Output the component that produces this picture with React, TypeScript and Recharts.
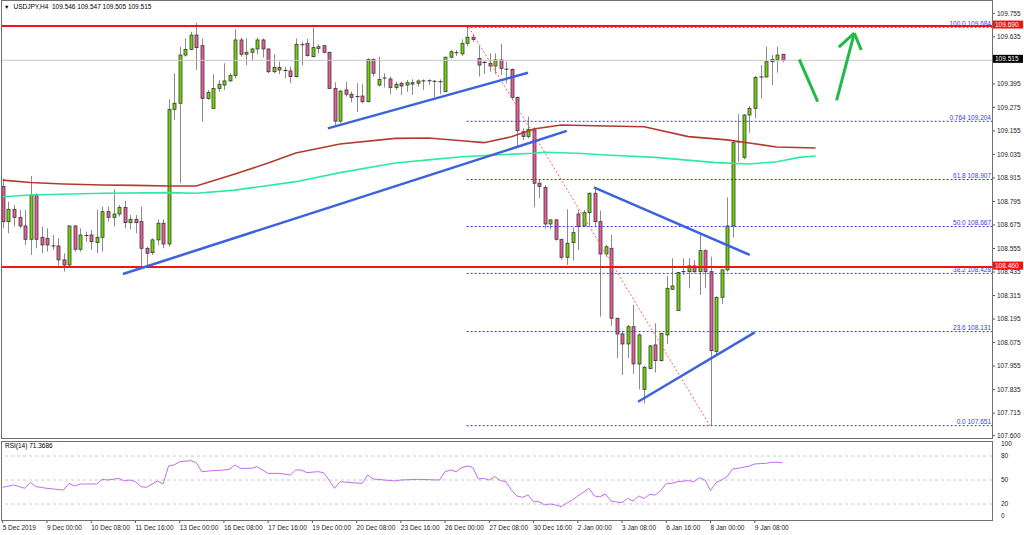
import { Bar, ComposedChart, Line, ReferenceLine, XAxis, YAxis } from 'recharts';

const FONT = '"Liberation Sans", Arial, sans-serif';
const FS = 6.5;
const BULL = '#6fd400';
const BEAR = '#ea5a9c';

const symbolHeader = 'USDJPY,H4  109.546 109.547 109.505 109.515';
const rsiHeader = 'RSI(14) 71.3686';

// H4 candles, oldest first
const opens = [
  108.871, 108.692, 108.755, 108.714, 108.670, 108.602, 108.828, 108.612, 108.607, 108.568,
  108.568, 108.497, 108.471, 108.670, 108.551, 108.619, 108.624, 108.585, 108.612, 108.743,
  108.714, 108.731, 108.765, 108.687, 108.704, 108.692, 108.556, 108.534, 108.599, 108.684,
  108.578, 109.265, 109.296, 109.542, 109.571, 109.644, 109.590, 109.321, 109.270, 109.372,
  109.389, 109.410, 109.437, 109.619, 109.546, 109.556, 109.573, 109.619, 109.573, 109.457,
  109.478, 109.461, 109.461, 109.432, 109.595, 109.602, 109.534, 109.576, 109.590, 109.556,
  109.372, 109.205, 109.364, 109.342, 109.330, 109.333, 109.304, 109.520, 109.389, 109.423,
  109.420, 109.376, 109.398, 109.389, 109.394, 109.398, 109.410, 109.410, 109.408, 109.406,
  109.355, 109.531, 109.554, 109.548, 109.602, 109.633, 109.525, 109.504, 109.500, 109.486,
  109.517, 109.470, 109.469, 109.326, 109.151, 109.126, 109.160, 108.888, 108.867, 108.680,
  108.701, 108.602, 108.510, 108.585, 108.731, 108.670, 108.738, 108.837, 108.692, 108.527,
  108.556, 108.199, 108.119, 108.068, 108.156, 107.966, 107.836, 107.943, 108.063, 107.983,
  108.114, 108.347, 108.238, 108.437, 108.437, 108.466, 108.437, 108.544, 108.437, 108.029,
  108.306, 108.446, 108.670, 109.099, 109.020, 109.236, 109.270, 109.428, 109.430, 109.508,
  109.517, 109.546,
];
const highs = [
  108.913, 108.794, 108.777, 108.752, 108.752, 108.925, 108.837, 108.667, 108.658, 108.624,
  108.607, 108.531, 108.675, 108.675, 108.658, 108.641, 108.650, 108.752, 108.769, 108.769,
  108.857, 108.777, 108.799, 108.726, 108.726, 108.769, 108.565, 108.607, 108.704, 108.704,
  109.316, 109.449, 109.585, 109.627, 109.661, 109.707, 109.627, 109.364, 109.444, 109.415,
  109.500, 109.449, 109.675, 109.631, 109.627, 109.580, 109.631, 109.627, 109.576, 109.546,
  109.508, 109.483, 109.483, 109.627, 109.610, 109.624, 109.682, 109.597, 109.593, 109.559,
  109.403, 109.364, 109.406, 109.355, 109.398, 109.393, 109.525, 109.525, 109.534, 109.449,
  109.432, 109.406, 109.406, 109.415, 109.418, 109.418, 109.418, 109.418, 109.415, 109.418,
  109.534, 109.568, 109.568, 109.622, 109.684, 109.650, 109.588, 109.514, 109.551, 109.551,
  109.599, 109.508, 109.474, 109.330, 109.168, 109.228, 109.173, 108.908, 108.879, 108.704,
  108.704, 108.602, 108.755, 108.663, 108.752, 108.752, 108.840, 108.862, 108.748, 108.573,
  108.624, 108.199, 108.136, 108.165, 108.267, 108.122, 107.956, 108.063, 108.173, 108.126,
  108.415, 108.505, 108.432, 108.505, 108.505, 108.496, 108.629, 108.551, 108.513, 108.310,
  108.449, 108.816, 109.109, 109.241, 109.241, 109.282, 109.435, 109.491, 109.585, 109.542,
  109.585, 109.547,
];
const lows = [
  108.658, 108.633, 108.667, 108.658, 108.573, 108.522, 108.556, 108.531, 108.539, 108.548,
  108.463, 108.437, 108.463, 108.539, 108.539, 108.590, 108.548, 108.531, 108.539, 108.692,
  108.667, 108.718, 108.658, 108.653, 108.633, 108.463, 108.459, 108.522, 108.573, 108.556,
  108.565, 109.211, 108.888, 109.534, 109.568, 109.466, 109.202, 109.313, 109.270, 109.355,
  109.364, 109.406, 109.423, 109.534, 109.491, 109.517, 109.546, 109.529, 109.449, 109.449,
  109.444, 109.423, 109.398, 109.427, 109.491, 109.534, 109.529, 109.551, 109.551, 109.369,
  109.185, 109.194, 109.330, 109.301, 109.253, 109.296, 109.301, 109.432, 109.381, 109.376,
  109.342, 109.364, 109.338, 109.355, 109.338, 109.381, 109.364, 109.389, 109.326, 109.343,
  109.355, 109.525, 109.537, 109.537, 109.588, 109.610, 109.432, 109.446, 109.457, 109.446,
  109.440, 109.398, 109.316, 109.078, 109.109, 109.117, 108.765, 108.811, 108.658, 108.653,
  108.595, 108.497, 108.471, 108.493, 108.548, 108.667, 108.667, 108.667, 108.207, 108.513,
  108.160, 107.995, 107.910, 107.995, 107.915, 107.836, 107.765, 107.939, 107.922, 107.978,
  108.068, 108.343, 108.238, 108.420, 108.352, 108.429, 108.318, 108.352, 107.650, 108.012,
  108.272, 108.437, 108.612, 108.998, 109.010, 109.146, 109.219, 109.321, 109.428, 109.389,
  109.452, 109.505,
];
const closes = [
  108.692, 108.755, 108.714, 108.670, 108.602, 108.828, 108.602, 108.573, 108.573, 108.565,
  108.497, 108.471, 108.670, 108.551, 108.624, 108.621, 108.590, 108.612, 108.743, 108.714,
  108.731, 108.765, 108.687, 108.704, 108.687, 108.556, 108.531, 108.599, 108.684, 108.578,
  109.265, 109.296, 109.542, 109.571, 109.644, 109.580, 109.321, 109.352, 109.372, 109.393,
  109.410, 109.437, 109.619, 109.546, 109.556, 109.573, 109.619, 109.573, 109.457, 109.478,
  109.466, 109.463, 109.432, 109.597, 109.593, 109.539, 109.580, 109.585, 109.556, 109.372,
  109.205, 109.358, 109.342, 109.325, 109.328, 109.304, 109.520, 109.449, 109.418, 109.425,
  109.376, 109.393, 109.384, 109.401, 109.401, 109.410, 109.410, 109.411, 109.406, 109.406,
  109.531, 109.559, 109.548, 109.602, 109.633, 109.622, 109.491, 109.503, 109.486, 109.517,
  109.474, 109.469, 109.326, 109.156, 109.126, 109.163, 108.888, 108.871, 108.680, 108.701,
  108.602, 108.510, 108.582, 108.636, 108.667, 108.738, 108.837, 108.692, 108.527, 108.564,
  108.199, 108.119, 108.068, 108.156, 107.966, 108.114, 107.949, 108.058, 107.983, 108.122,
  108.352, 108.364, 108.432, 108.437, 108.466, 108.437, 108.544, 108.437, 108.034, 108.306,
  108.446, 108.670, 109.095, 109.097, 109.236, 109.270, 109.428, 109.430, 109.508, 109.520,
  109.542, 109.515,
];

// moving averages [bar index, price] (red = slow, green = slower), shifted forward
const maRed: [number, number][] = [
  [0, 108.904], [5, 108.892], [11, 108.884], [18, 108.879], [24, 108.877], [30, 108.874],
  [35, 108.874], [42, 108.935], [48, 108.991], [53, 109.042], [61, 109.088], [71, 109.117],
  [77, 109.119], [83, 109.105], [87, 109.095], [92, 109.125], [96, 109.165], [101, 109.185],
  [109, 109.18], [116, 109.176], [124, 109.126], [131, 109.109], [135, 109.093], [140, 109.073],
  [147, 109.068],
];
const maGreen: [number, number][] = [
  [0, 108.819], [5, 108.828], [18, 108.837], [30, 108.84], [35, 108.837], [42, 108.853],
  [53, 108.896], [61, 108.942], [71, 108.991], [77, 109.007], [83, 109.023], [89, 109.032],
  [96, 109.041], [98, 109.046], [104, 109.041], [109, 109.032], [118, 109.02], [129, 108.993],
  [135, 108.986], [140, 108.998], [144, 109.02], [147, 109.027],
];

// RSI(14) [bar index, value]
const rsiPoints: [number, number][] = [
  [0, 40.8], [2, 43.8], [4, 39.6], [5, 47.1], [6, 41.7], [8, 39.6], [11, 37.5], [12, 45.8],
  [13, 42.5], [14, 45], [17, 45], [18, 50.8], [19, 50], [21, 52], [22, 48.8], [23, 50],
  [24, 47.9], [25, 41.7], [26, 40.8], [28, 48.8], [29, 45], [30, 67.5], [31, 68.8], [32, 72.9],
  [34, 74.2], [35, 71.7], [36, 60.4], [38, 61.7], [40, 62.5], [41, 63.3], [42, 68.8], [43, 64.6],
  [45, 64.6], [46, 66.7], [47, 62.5], [48, 58.3], [50, 58.3], [52, 56.3], [53, 62.5], [54, 62.5],
  [55, 59.2], [57, 60.4], [58, 59.2], [59, 50], [60, 39.6], [61, 47.9], [63, 46.7], [65, 45.8],
  [66, 56.3], [67, 51.3], [69, 50], [71, 48.8], [72, 50], [75, 50.8], [79, 50], [80, 60.4],
  [81, 62.5], [82, 60.4], [83, 65.4], [84, 67.5], [85, 65.8], [86, 51.3], [87, 52.1], [88, 50],
  [89, 54.2], [90, 49.2], [91, 47.9], [92, 37.5], [93, 30], [94, 28.3], [95, 31.3], [96, 22.9],
  [97, 22.9], [98, 18.8], [99, 20], [100, 18.8], [101, 16.7], [102, 21], [103, 25], [104, 30],
  [106, 39.6], [107, 30], [108, 29], [109, 32.5], [110, 23.8], [111, 22.5], [112, 21.7],
  [113, 27], [114, 23.8], [115, 30], [116, 27], [117, 32], [118, 31.3], [119, 36.7], [120, 45.8],
  [121, 45.8], [122, 47.9], [124, 49.2], [125, 47.9], [126, 52.9], [127, 50], [128, 36.7],
  [129, 46.7], [130, 50], [131, 54.2], [132, 63.8], [133, 64.6], [134, 66], [135, 67.5],
  [136, 70], [137, 70.5], [138, 70.8], [139, 72.1], [140, 72.1], [141, 71.37],
];

const timeLabels = [
  '5 Dec 2019', '9 Dec 00:00', '10 Dec 08:00', '11 Dec 16:00', '13 Dec 00:00', '16 Dec 08:00',
  '17 Dec 16:00', '19 Dec 00:00', '20 Dec 08:00', '23 Dec 16:00', '26 Dec 00:00', '27 Dec 08:00',
  '30 Dec 16:00', '2 Jan 00:00', '3 Jan 08:00', '6 Jan 16:00', '8 Jan 00:00', '9 Jan 08:00',
];
const barsPerLabel = 8;

const priceTicks = [
  109.755, 109.635, 109.395, 109.275, 109.155, 109.035, 108.915, 108.795, 108.675, 108.555,
  108.435, 108.315, 108.195, 108.075, 107.955, 107.835, 107.715, 107.6,
];
const rsiTicks = [0, 20, 50, 80, 100];
const rsiLevels = [20, 50, 80];

const resistance = 109.69;
const support = 108.46;
const lastPrice = 109.515;

const fibNames = ['100.0', '0.764', '61.8', '50.0', '38.2', '23.6', '0.0'];
const fibValues = [109.684, 109.204, 108.907, 108.667, 108.428, 108.131, 107.651];
const fibStart = 83.9;
const fibSwing: [number, number][] = [[84.3, 109.684], [127.9, 107.651]];

const trendLines: [number, number][][] = [
  [[21.75, 108.425], [102.0, 109.155]],
  [[58.8, 109.168], [95.0, 109.452]],
  [[106.9, 108.867], [135.1, 108.522]],
  [[114.9, 107.773], [136.0, 108.127]],
];
const arrowStrokes: [number, number][][] = [
  [[144.05, 109.52], [147.38, 109.304]],
  [[150.8, 109.311], [154.0, 109.654]],
  [[151.2, 109.583], [154.0, 109.654]],
  [[155.26, 109.568], [154.0, 109.654]],
];

const xDomain: [number, number] = [-0.307, 178.9];
const priceDomain: [number, number] = [107.5881, 109.8127];

const redMap = new Map(maRed);
const greenMap = new Map(maGreen);
const rows = Array.from({ length: 148 }, (_, i) => ({
  i,
  range: i < opens.length ? [lows[i], highs[i]] : null,
  o: opens[i],
  h: highs[i],
  l: lows[i],
  c: closes[i],
  maRed: redMap.get(i) ?? null,
  maGreen: greenMap.get(i) ?? null,
}));
const rsiRows = rsiPoints.map(([i, v]) => ({ i, rsi: v }));

function Candle(props: any) {
  const { x, y, width, height, payload } = props;
  if (!payload || payload.o == null || x == null || y == null) return <g />;
  const top = Math.min(y, y + height);
  const bot = Math.max(y, y + height);
  const { o, h, l, c } = payload;
  const span = h - l;
  const py = (v: number) => (span > 0 ? top + ((h - v) / span) * (bot - top) : top);
  const cx = Math.round(x + width / 2) + 0.5;
  const yo = py(o);
  const yc = py(c);
  const bodyTop = Math.min(yo, yc);
  const bodyH = Math.abs(yo - yc);
  return (
    <g>
      <line x1={cx} x2={cx} y1={top} y2={bot} stroke="#8c8c8c" strokeWidth={1} />
      {bodyH < 1.2 ? (
        <line x1={cx - 2} x2={cx + 2} y1={bodyTop} y2={bodyTop} stroke="#333" strokeWidth={1} />
      ) : (
        <rect
          x={cx - 1.5}
          y={bodyTop}
          width={3}
          height={bodyH}
          fill={c >= o ? BULL : BEAR}
          stroke="#3a3a3a"
          strokeWidth={0.8}
        />
      )}
    </g>
  );
}

function PriceTick(props: any) {
  const { x, y, payload } = props;
  return (
    <text x={x} y={y} dy={2.3} fontSize={FS} fill="#222" fontFamily={FONT} textAnchor="start">
      {Number(payload.value).toFixed(3)}
    </text>
  );
}

function RsiTick(props: any) {
  const { x, y, payload } = props;
  const shift = payload.value === 100 ? 4 : payload.value === 0 ? -4 : 0;
  return (
    <text x={x} y={y + shift} dy={2.3} fontSize={FS} fill="#222" fontFamily={FONT} textAnchor="start">
      {payload.value}
    </text>
  );
}

function TimeTick(props: any) {
  const { x, y, payload } = props;
  return (
    <text x={x} y={y} dy={5.5} fontSize={FS} fill="#222" fontFamily={FONT} textAnchor="start">
      {timeLabels[Math.round(payload.value / barsPerLabel)]}
    </text>
  );
}

function priceBox(text: string, fill: string) {
  return (p: any) => {
    const vb = p.viewBox || {};
    const right = (vb.x ?? 0) + (vb.width ?? 0);
    const yy = vb.y ?? 0;
    return (
      <g>
        <rect x={right + 1} y={yy - 5.5} width={30} height={8} fill={fill} />
        <text x={right + 3} y={yy + 0.8} fontSize={FS} fill="#fff" fontFamily={FONT}>
          {text}
        </text>
      </g>
    );
  };
}

function fibLabel(text: string) {
  return (p: any) => {
    const vb = p.viewBox || {};
    const right = (vb.x ?? 0) + (vb.width ?? 0);
    return (
      <text
        x={right - 1}
        y={(vb.y ?? 0) - 1.5}
        fontSize={FS}
        fill="#3a3aee"
        fontFamily={FONT}
        textAnchor="end"
      >
        {text}
      </text>
    );
  };
}

const frame = (top: number, height: number) => ({
  position: 'absolute' as const,
  left: 1,
  top,
  width: 992,
  height,
  border: '1px solid #707070',
  boxSizing: 'border-box' as const,
  pointerEvents: 'none' as const,
});

export default function App() {
  return (
    <div
      style={{
        position: 'relative',
        width: 1024,
        height: 535,
        background: '#fff',
        overflow: 'hidden',
        fontFamily: FONT,
      }}
    >
      <style>{'html,body{margin:0;padding:0;overflow:hidden;background:#fff}'}</style>
      <div style={{ position: 'absolute', left: 0, top: 0 }}>
        <ComposedChart width={1024} height={440} data={rows} margin={{ top: 2, right: 0, bottom: 2, left: 1 }}>
          <XAxis type="number" dataKey="i" domain={xDomain} hide allowDataOverflow />
          <YAxis
            orientation="right"
            type="number"
            width={32}
            domain={priceDomain}
            ticks={priceTicks}
            interval={0}
            allowDataOverflow
            axisLine={false}
            tickSize={3}
            tickMargin={2}
            tickLine={{ stroke: '#555' }}
            tick={<PriceTick />}
          />
          <ReferenceLine y={lastPrice} stroke="#c8c8c8" strokeWidth={1} label={priceBox('109.515', '#000')} />
          <Line
            dataKey="maRed"
            stroke="#b23a30"
            strokeWidth={1.6}
            dot={false}
            connectNulls
            isAnimationActive={false}
          />
          <Line
            dataKey="maGreen"
            stroke="#2eeaa0"
            strokeWidth={1.6}
            dot={false}
            connectNulls
            isAnimationActive={false}
          />
          {fibValues.map((v, k) => (
            <ReferenceLine
              key={`fib-${k}`}
              segment={[{ x: fibStart, y: v }, { x: xDomain[1], y: v }]}
              stroke="#3030ff"
              strokeDasharray="2 2"
              strokeWidth={1}
              label={fibLabel(`${fibNames[k]} ${v.toFixed(3)}`)}
            />
          ))}
          <ReferenceLine
            segment={fibSwing.map(([x, y]) => ({ x, y }))}
            stroke="#ff6060"
            strokeDasharray="2 2"
            strokeWidth={1}
          />
          <Bar dataKey="range" barSize={4} shape={(p: any) => <Candle {...p} />} isAnimationActive={false} />
          <ReferenceLine y={resistance} stroke="#f01414" strokeWidth={2} label={priceBox('109.690', '#f01414')} />
          <ReferenceLine y={support} stroke="#f01414" strokeWidth={2} label={priceBox('108.460', '#f01414')} />
          {trendLines.map((seg, k) => (
            <ReferenceLine
              key={`trend-${k}`}
              segment={seg.map(([x, y]) => ({ x, y }))}
              stroke="#3c63dc"
              strokeWidth={2.5}
              ifOverflow="visible"
            />
          ))}
          {arrowStrokes.map((seg, k) => (
            <ReferenceLine
              key={`arrow-${k}`}
              segment={seg.map(([x, y]) => ({ x, y }))}
              stroke="#22b84a"
              strokeWidth={3}
              ifOverflow="visible"
            />
          ))}
        </ComposedChart>
      </div>

      <div style={{ position: 'absolute', left: 0, top: 440 }}>
        <ComposedChart width={1024} height={95} data={rsiRows} margin={{ top: 0, right: 0, bottom: 0, left: 1 }}>
          <XAxis
            type="number"
            dataKey="i"
            domain={xDomain}
            allowDataOverflow
            ticks={timeLabels.map((_, k) => k * barsPerLabel)}
            interval={0}
            height={15}
            axisLine={false}
            tickSize={3}
            tickMargin={1}
            tickLine={{ stroke: '#555' }}
            tick={<TimeTick />}
          />
          <YAxis
            orientation="right"
            type="number"
            width={32}
            domain={[0, 100]}
            ticks={rsiTicks}
            interval={0}
            allowDataOverflow
            axisLine={false}
            tickLine={false}
            tickMargin={3}
            tick={<RsiTick />}
          />
          {rsiLevels.map((v) => (
            <ReferenceLine key={`lvl-${v}`} y={v} stroke="#c8c8c8" strokeDasharray="3 3" />
          ))}
          <Line
            dataKey="rsi"
            stroke="#c46cf0"
            strokeWidth={1}
            dot={false}
            isAnimationActive={false}
          />
        </ComposedChart>
      </div>

      <div style={frame(0, 439)} />
      <div style={frame(441, 80)} />

      <div
        style={{
          position: 'absolute',
          left: 4,
          top: 3,
          fontSize: FS,
          lineHeight: '8px',
          color: '#000',
          whiteSpace: 'pre',
        }}
      >
        <span style={{ fontSize: 5.5, marginRight: 4 }}>▼</span>
        {symbolHeader}
      </div>
      <div
        style={{
          position: 'absolute',
          left: 5,
          top: 442,
          fontSize: FS,
          lineHeight: '8px',
          color: '#000',
          whiteSpace: 'pre',
        }}
      >
        {rsiHeader}
      </div>
    </div>
  );
}
